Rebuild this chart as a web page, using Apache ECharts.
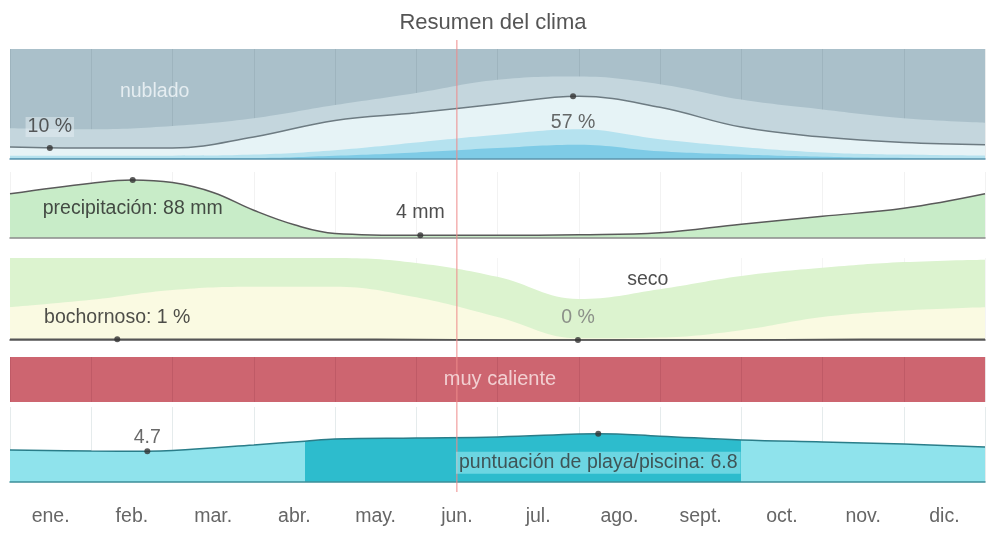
<!DOCTYPE html>
<html>
<head>
<meta charset="utf-8">
<script src="https://cdn.jsdelivr.net/npm/echarts@6/dist/echarts.min.js"></script>
<style>
    html, body {margin:0;padding:0;background:#fff;}
    #main {width:986px;height:533px;}
</style>
</head>
<body>
<div id="main"></div>
<script>
    // meses y bordes de mes (0 = 1 ene, 12 = 31 dic)
    var months = ['ene.', 'feb.', 'mar.', 'abr.', 'may.', 'jun.', 'jul.', 'ago.', 'sept.', 'oct.', 'nov.', 'dic.'];
    var edges = [0, 1, 2, 3, 4, 5, 6, 7, 8, 9, 10, 11, 12];

    var cloudMostlyCloudy = [28, 27, 30, 37, 49, 60, 72, 75, 68, 54, 45, 37, 33];
    var cloudPartly = [11, 10, 10, 20, 35, 42, 50, 57, 47, 29, 20, 15, 13];
    var cloudMostlyClear = [3, 3, 3, 4, 8, 15, 22, 27, 18, 11, 6, 4, 3];
    var cloudClear = [1, 1, 1, 1, 3, 6, 10, 13, 7, 4, 2, 1, 1];

    // precipitacion (mm)
    var precipX = [0, 1, 1.5, 2, 2.5, 3, 3.5, 4, 5, 6, 7, 8, 9, 10, 11, 12];
    var precipMm = [67, 83, 88, 84, 69, 42, 20, 7, 4, 4, 5, 8, 21, 33, 45, 67];

    // humedad: % acumulado
    var humComfort = [100, 100, 100, 100, 100, 94, 77, 50, 62, 78, 88, 95, 98];
    var humHumid = [40, 49, 61, 65, 65, 52, 28, 2, 3, 12, 28, 36, 40];
    var humMuggy = [1, 1, 1, 1, 1, 0.5, 0, 0, 0, 0, 0.5, 1, 1];

    // puntuacion de playa/piscina
    var beachX = [0, 1, 1.69, 2, 3, 3.63, 4, 5, 6, 7, 7.24, 8, 9, 10, 11, 12];
    var beachScore = [4.84, 4.72, 4.7, 4.78, 5.44, 5.9, 6.16, 6.28, 6.4, 6.76, 6.8, 6.5, 6.04, 5.8, 5.56, 5.2];
    var beachBest = [3.63, 9.0];

    var today = 5.5;

    var FONT = '"Liberation Sans", Arial, sans-serif';

    var pairs = function (xs, ys) {
        return xs.map(function (x, i) { return [x, ys[i]]; });
    };

    var chart = echarts.init(document.getElementById('main'), null, {renderer: 'canvas'});

    var gridBase = {left: 10, width: 975};
    var grids = [
        Object.assign({top: 49, height: 110, show: true, backgroundColor: '#aac0ca', borderWidth: 0}, gridBase),
        Object.assign({top: 172, height: 66}, gridBase),
        Object.assign({top: 258, height: 82}, gridBase),
        Object.assign({top: 357, height: 45, show: true, backgroundColor: '#cd6570', borderWidth: 0}, gridBase),
        Object.assign({top: 407, height: 75}, gridBase),
        Object.assign({top: 40, height: 452}, gridBase)
    ];

    var mkX = function (idx, lineColor, gridColor) {
        return {
            type: 'value', gridIndex: idx, min: 0, max: 12, interval: 1, z: 3,
            axisLabel: {show: false}, axisTick: {show: false},
            axisLine: {show: !!lineColor, lineStyle: {color: lineColor, width: 1.5}},
            splitLine: {show: !!gridColor, lineStyle: {color: gridColor, width: 1}}
        };
    };
    var mkY = function (idx, min, max) {
        return {type: 'value', gridIndex: idx, min: min, max: max, show: false, splitLine: {show: false}};
    };

    var xAxes = [
        mkX(0, '#5c95ad', 'rgba(60,80,90,0.10)'),
        mkX(1, '#8a8a8a', 'rgba(0,0,0,0.05)'),
        mkX(2, '#555', 'rgba(0,0,0,0.04)'),
        mkX(3, null, 'rgba(90,20,30,0.12)'),
        mkX(4, '#3c8e99', 'rgba(0,60,70,0.10)'),
        {type: 'value', gridIndex: 5, min: 0, max: 12, show: false},
        {
            type: 'category', gridIndex: 4, data: months, position: 'bottom', boundaryGap: true,
            axisLine: {show: false}, axisTick: {show: false}, splitLine: {show: false},
            axisLabel: {margin: 25, color: '#666', fontSize: 19.5, fontFamily: FONT}
        }
    ];
    var yAxes = [mkY(0, 0, 100), mkY(1, 0, 100), mkY(2, 0, 100), mkY(3, 0, 1), mkY(4, 1, 10), mkY(5, 0, 1)];

    var area = function (idx, data, color, lineColor) {
        return {
            type: 'line', xAxisIndex: idx, yAxisIndex: idx, data: data, smooth: 0.4,
            showSymbol: false, silent: true,
            lineStyle: lineColor ? {color: lineColor, width: 1.5} : {width: 0},
            areaStyle: {color: color, opacity: 1}
        };
    };

    var dot = function (idx, x, y, text, pos, dist, extra) {
        return {
            type: 'scatter', xAxisIndex: idx, yAxisIndex: idx, z: 6, silent: true,
            symbolSize: 6, itemStyle: {color: '#333'},
            data: [[x, y]],
            label: Object.assign({
                show: true, position: pos, distance: dist, formatter: text,
                fontFamily: FONT, fontSize: 19.5, color: '#333'
            }, extra || {})
        };
    };
    var tag = function (idx, x, y, text, extra) {
        return {
            type: 'scatter', xAxisIndex: idx, yAxisIndex: idx, z: 6, silent: true,
            symbolSize: 0, data: [[x, y]],
            label: Object.assign({
                show: true, position: 'inside', formatter: text,
                fontFamily: FONT, fontSize: 19.5, color: '#333'
            }, extra || {})
        };
    };

    var series = [
        // nubes
        area(0, pairs(edges, cloudMostlyCloudy), '#c4d6dd'),
        area(0, pairs(edges, cloudPartly), '#e6f3f6', '#6d7b82'),
        area(0, pairs(edges, cloudMostlyClear), '#b5e2ef'),
        area(0, pairs(edges, cloudClear), '#7ecbe6'),
        // precipitacion
        area(1, pairs(precipX, precipMm), '#c8ecc8', '#5a5a5a'),
        // humedad
        area(2, pairs(edges, humComfort), '#dcf3cf'),
        area(2, pairs(edges, humHumid), '#fafae2'),
        {
            type: 'line', xAxisIndex: 2, yAxisIndex: 2, data: pairs(edges, humMuggy), smooth: 0.4,
            showSymbol: false, silent: true, lineStyle: {color: '#555', width: 1.5}
        },
        // playa/piscina: relleno con tramo destacado
        {
            type: 'line', xAxisIndex: 4, yAxisIndex: 4, data: pairs(beachX, beachScore), smooth: 0.4,
            showSymbol: false, silent: true, lineStyle: {width: 0},
            areaStyle: {opacity: 1}
        },
        {
            type: 'line', xAxisIndex: 4, yAxisIndex: 4, data: pairs(beachX, beachScore), smooth: 0.4,
            showSymbol: false, silent: true, z: 3, lineStyle: {color: '#2a7d89', width: 1.5}
        },
        // linea de hoy
        {
            type: 'line', xAxisIndex: 5, yAxisIndex: 5, data: [[today, 0], [today, 1]], showSymbol: false,
            silent: true, z: 5, lineStyle: {color: '#ee8a8a', width: 1}
        },
        // etiquetas
        tag(0, 1.78, 61, 'nublado', {color: '#f4f8fa'}),
        dot(0, 0.49, 10, '10 %', 'top', 8, {backgroundColor: 'rgba(235,242,245,0.55)', padding: [0, 2]}),
        dot(0, 6.93, 57, '57 %', 'bottom', 13, {color: '#444'}),
        dot(1, 1.51, 88, 'precipitación: 88 mm', 'bottom', 15, {color: '#222', backgroundColor: '#c8ecc8', padding: [1, 2]}),
        dot(1, 5.05, 4, '4 mm', 'top', 10, {color: '#222'}),
        tag(2, 7.85, 74, 'seco', {color: '#222'}),
        dot(2, 1.32, 1, 'bochornoso: 1 %', 'top', 9, {color: '#222'}),
        dot(2, 6.99, 0, '0 %', 'top', 9, {color: '#777'}),
        tag(3, 6.03, 0.5, 'muy caliente', {color: '#fbeaea', fontSize: 20}),
        dot(4, 1.69, 4.7, '4.7', 'top', 1, {color: '#444'}),
        dot(4, 7.24, 6.8, 'puntuación de playa/piscina: 6.8', 'bottom', 15,
            {color: '#333', backgroundColor: 'rgba(150,232,240,0.75)', padding: [1, 3]})
    ];

    chart.setOption({
        backgroundColor: '#fff',
        animation: false,
        title: {
            text: 'Resumen del clima', left: 'center', top: 7,
            textStyle: {fontFamily: FONT, fontSize: 22, fontWeight: 'normal', color: '#555'}
        },
        grid: grids,
        xAxis: xAxes,
        yAxis: yAxes,
        visualMap: [{
            type: 'piecewise', show: false, dimension: 0, seriesIndex: 8,
            pieces: [{gte: beachBest[0], lte: beachBest[1], color: '#2dbccd'}],
            outOfRange: {color: '#8fe3ec'}
        }],
        series: series
    });

    window.onresize = function () {
        chart.resize();
    };
</script>
</body>
</html>
